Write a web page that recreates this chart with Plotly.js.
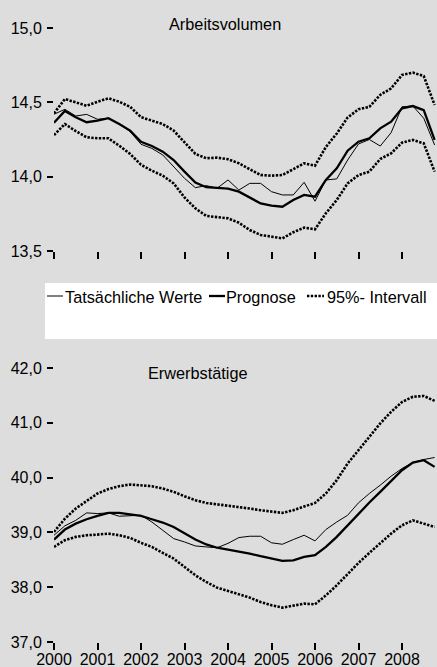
<!DOCTYPE html>
<html>
<head>
<meta charset="utf-8">
<script src="https://cdn.plot.ly/plotly-3.0.1.min.js"></script>
<style>
html,body{margin:0;padding:0;background:#dddddd;}
#chart{width:437px;height:667px;}
</style>
</head>
<body>
<div id="chart"></div>
<script>
// Quarterly observations 2000Q1 .. 2008Q4
var years = [2000, 2001, 2002, 2003, 2004, 2005, 2006, 2007, 2008];
var quartersPerYear = [1, 2, 3, 4];

// Arbeitsvolumen (top panel)
var avActual = [14.42,14.453,14.408,14.419,14.386,14.393,14.354,14.303,14.218,14.19,14.146,14.067,13.989,13.926,13.94,13.922,13.978,13.91,13.955,13.955,13.899,13.877,13.877,13.962,13.835,13.978,13.985,14.112,14.22,14.25,14.206,14.296,14.47,14.475,14.393,14.213];
var avForecast = [14.363,14.442,14.40,14.366,14.377,14.393,14.354,14.31,14.235,14.206,14.168,14.112,14.034,13.96,13.929,13.926,13.919,13.899,13.86,13.82,13.805,13.798,13.843,13.877,13.865,13.978,14.056,14.175,14.235,14.258,14.325,14.37,14.46,14.475,14.448,14.247];
var avUpper = [14.426,14.522,14.50,14.477,14.504,14.527,14.504,14.47,14.40,14.377,14.354,14.31,14.23,14.153,14.124,14.128,14.117,14.09,14.05,14.011,14.007,14.011,14.05,14.09,14.074,14.20,14.29,14.398,14.453,14.47,14.55,14.594,14.684,14.70,14.677,14.482];
var avLower = [14.28,14.354,14.307,14.265,14.258,14.258,14.208,14.153,14.08,14.04,14.007,13.955,13.86,13.787,13.736,13.727,13.72,13.69,13.641,13.608,13.596,13.585,13.626,13.657,13.646,13.754,13.843,13.955,14.011,14.034,14.119,14.157,14.229,14.247,14.224,14.034];

// Erwerbstätige (bottom panel)
var etActual = [38.948,39.12,39.22,39.356,39.344,39.356,39.295,39.307,39.313,39.19,39.04,38.887,38.826,38.753,38.735,38.72,38.80,38.906,38.93,38.93,38.81,38.784,38.869,38.948,38.845,39.052,39.19,39.313,39.54,39.71,39.862,40.026,40.166,40.275,40.33,40.367];
var etForecast = [38.869,39.052,39.16,39.24,39.30,39.356,39.356,39.33,39.30,39.24,39.18,39.10,38.98,38.87,38.78,38.72,38.686,38.656,38.613,38.565,38.52,38.48,38.49,38.553,38.583,38.735,38.918,39.13,39.344,39.545,39.74,39.935,40.135,40.275,40.318,40.196];
var etUpper = [39.01,39.25,39.435,39.575,39.71,39.79,39.843,39.874,39.862,39.843,39.80,39.74,39.66,39.587,39.538,39.514,39.496,39.466,39.435,39.405,39.374,39.356,39.405,39.478,39.538,39.71,39.953,40.257,40.50,40.744,40.988,41.20,41.38,41.475,41.49,41.40];
var etLower = [38.735,38.857,38.918,38.948,38.96,38.978,38.948,38.90,38.81,38.735,38.626,38.522,38.37,38.218,38.096,37.992,37.932,37.87,37.81,37.73,37.67,37.627,37.657,37.70,37.688,37.85,38.035,38.248,38.443,38.626,38.81,38.978,39.13,39.22,39.16,39.10];

var avTickVals = [13.5, 14.0, 14.5, 15.0];
var avTickText = ['13,5', '14,0', '14,5', '15,0'];
var etTickVals = [37, 38, 39, 40, 41, 42];
var etTickText = ['37,0', '38,0', '39,0', '40,0', '41,0', '42,0'];
var yearText = ['2000','2001','2002','2003','2004','2005','2006','2007','2008'];

var legendLabels = ['Tatsächliche Werte', 'Prognose', '95%- Intervall'];
var panelTitles = ['Arbeitsvolumen', 'Erwerbstätige'];

// time axis positions
var t = [];
years.forEach(function(y){ quartersPerYear.forEach(function(q){ t.push(y + (q-1)/4); }); });

var W = 437, H = 667, L = 54;
function px(x){ return (x - L) / (W - L); }
function py(y){ return (H - y) / H; }

var FONT = 'Liberation Sans, Arial, sans-serif';
var thin = {color:'#000', width:1};
var thick = {color:'#000', width:2.3};
var dots = {color:'#000', width:2.6, dash:'2.4px,1.4px'};

function tr(y, line, xa, ya){ return {x:t, y:y, type:'scatter', mode:'lines', line:line, xaxis:xa, yaxis:ya, showlegend:false, hoverinfo:'skip'}; }

var data = [
  tr(avUpper, dots, 'x', 'y'), tr(avLower, dots, 'x', 'y'),
  tr(avActual, thin, 'x', 'y'), tr(avForecast, thick, 'x', 'y'),
  tr(etUpper, dots, 'x2', 'y2'), tr(etLower, dots, 'x2', 'y2'),
  tr(etActual, thin, 'x2', 'y2'), tr(etForecast, thick, 'x2', 'y2')
];

var xRange = [2000, 2000 + (W - L) / 43.5];
var axX = {range:xRange, showgrid:false, zeroline:false, showline:false, ticks:'outside', ticklen:7, tickwidth:2, tickcolor:'#000',
  tickvals:years, ticktext:yearText, automargin:false, fixedrange:true,
  tickfont:{family:FONT, size:16, color:'#000'}};
var axY = {showgrid:false, zeroline:false, showline:false, ticks:'outside', ticklen:6, tickwidth:2, tickcolor:'#000', automargin:false,
  tickfont:{family:FONT, size:16, color:'#000'}, fixedrange:true, ticklabelstandoff:2};

var layout = {
  width:W, height:H,
  margin:{l:L, r:0, t:0, b:0, pad:0},
  paper_bgcolor:'#dddddd', plot_bgcolor:'#dddddd',
  showlegend:false,
  xaxis: Object.assign({}, axX, {anchor:'y', showticklabels:false}),
  yaxis: Object.assign({}, axY, {domain:[py(251), py(28)], range:[13.5, 15.0], tickvals:avTickVals, ticktext:avTickText}),
  xaxis2: Object.assign({}, axX, {anchor:'y2', showticklabels:true, ticklabelstandoff:-4}),
  yaxis2: Object.assign({}, axY, {domain:[py(642), py(368)], range:[37, 42], tickvals:etTickVals, ticktext:etTickText}),
  shapes:[
    {type:'rect', xref:'paper', yref:'paper', x0:px(45), x1:px(437), y0:py(339), y1:py(283), fillcolor:'#ffffff', line:{width:0}, layer:'below'},
    {type:'line', xref:'paper', yref:'paper', x0:px(47), x1:px(63), y0:py(296), y1:py(296), line:thin},
    {type:'line', xref:'paper', yref:'paper', x0:px(209), x1:px(225), y0:py(296), y1:py(296), line:thick},
    {type:'line', xref:'paper', yref:'paper', x0:px(307), x1:px(324), y0:py(296), y1:py(296), line:dots}
  ],
  annotations:[
    {xref:'paper', yref:'paper', x:px(225), y:py(24), text:panelTitles[0], showarrow:false, xanchor:'center', yanchor:'middle', font:{family:FONT, size:16.3, color:'#000'}},
    {xref:'paper', yref:'paper', x:px(198), y:py(373), text:panelTitles[1], showarrow:false, xanchor:'center', yanchor:'middle', font:{family:FONT, size:16.3, color:'#000'}},
    {xref:'paper', yref:'paper', x:px(63), y:py(297), text:legendLabels[0], showarrow:false, xanchor:'left', yanchor:'middle', font:{family:FONT, size:16.3, color:'#000'}},
    {xref:'paper', yref:'paper', x:px(224), y:py(297), text:legendLabels[1], showarrow:false, xanchor:'left', yanchor:'middle', font:{family:FONT, size:16.3, color:'#000'}},
    {xref:'paper', yref:'paper', x:px(325), y:py(297), text:legendLabels[2], showarrow:false, xanchor:'left', yanchor:'middle', font:{family:FONT, size:16.3, color:'#000'}}
  ]
};

Plotly.newPlot('chart', data, layout, {displayModeBar:false, staticPlot:true});
</script>
</body>
</html>
